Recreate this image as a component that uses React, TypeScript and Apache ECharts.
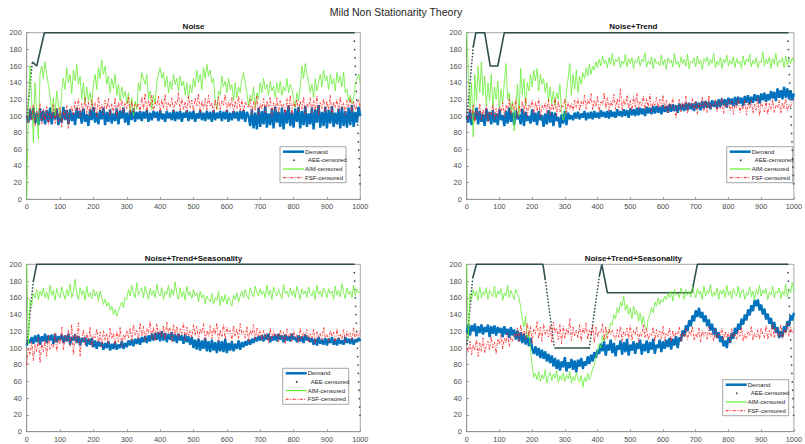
import React, { useEffect, useRef } from "react";
import * as echarts from "echarts";

// ---------- data (x step = 5, x from 0 to 1000) ----------
const STEP = 5;

// Top-left: Noise
const tlDemand = [100,92,108,95,110,91,104,89,109,94,106,90,107,
93,110,90,105,96,109,89,103,92,111,95,107,90,108,94,104,89,110,97,106,91,109,93,102,88,108,95,111,92,104,90,107,96,110,89,105,93,108,91,103,94,109,90,106,97,110,92,104,89,107,95,109,93,105,
96,106,94,105,97,107,93,104,95,106,98,105,94,107,96,103,93,106,97,104,95,107,94,105,96,106,93,104,98,107,94,105,96,106,93,103,97,107,95,104,94,106,96,105,93,107,95,104,97,106,94,105,96,107,93,104,95,106,97,105,94,106,96,107,93,105,
100,88,108,85,104,84,110,87,106,90,112,86,103,89,109,85,111,92,105,87,110,84,107,91,113,88,104,86,109,93,111,85,106,89,112,87,103,90,110,84,108,92,113,86,105,88,111,85,107,91,112,87,104,90,109,85,111,88,106,86,110,89,113,87,105,92,111,100];
const tlFsf = [100,92,110,95,113,88,106,99,115,90,108,94,112,89,104,97,114,91,109,93,111,87,107,96,113,85,105,
112,101,118,104,121,99,115,107,122,103,117,100,120,106,116,98,123,105,114,102,119,108,121,100,115,104,122,99,117,106,120,103,116,109,123,101,118,105,114,110,
115,105,123,108,127,104,119,110,125,106,117,112,124,103,120,109,126,107,116,111,122,105,118,113,128,106,121,108,117,104,124,110,119,105,122,112,127,103,118,109,121,106,125,111,116,104,120,108,123,107,119,113,126,105,117,110,122,104,118,109,124,106,120,105,117,112,
110,120,102,117,107,124,101,115,108,121,104,118,110,123,100,116,106,122,103,119,109,114,102,121,107,125,101,117,111,120,105,118,108,123,102,115,110,122,104,119,106,124,101,116,109,121,103,118,107,125,102,117,110,120,105,123,108,116,101,119,111,122,104,118,107,115,120,110];
const tlAim = [0,110,160,120,68,140,105,72,150,160,145,165,150,138,125,104,122,100,130,112,
98,128,145,132,158,140,150,127,155,142,162,138,148,120,140,115,135,118,128,112,
138,150,132,158,145,167,150,160,138,148,128,145,133,150,125,138,118,135,122,130,
115,128,105,122,100,118,108,140,130,152,145,138,150,120,130,108,125,115,140,150,
158,145,152,135,148,128,142,132,150,138,145,130,148,136,142,125,140,120,138,128,
145,135,155,140,150,132,158,145,162,148,155,140,145,118,108,130,125,148,135,142,
128,145,132,138,118,140,122,135,128,145,152,140,128,112,125,118,135,110,128,120,
140,128,145,132,138,125,142,130,136,122,140,128,142,125,135,130,145,128,138,132,
120,110,128,118,135,160,145,163,150,140,128,138,122,145,130,140,150,135,155,142,
148,132,150,138,145,130,152,140,148,135,153,128,132,118,125,115,122,138,145,150,140];
const tlAeeSolid = [[[17,165],[30,160],[53,200],[981,200]]];
const tlAeeStart = [[[1,100],[17,165]]];
const tlAeeEnd = [[981,200],[1000,10]];

// Top-right: Noise+Trend
const trDemand = [100,92,108,89,104,95,110,90,106,93,102,88,109,94,105,90,107,92,103,89,108,95,101,88,106,91,110,93,104,89,107,96,102,90,109,88,105,94,100,91,108,93,104,89,106,95,101,87,103,90,107,92,105,88,104,94,99,86,102,91,106,89,104,96,101,
95,104,97,105,96,103,98,106,95,104,97,105,96,106,98,104,97,107,99,105,98,106,97,107,99,105,98,108,100,106,99,108,100,107,98,109,101,108,100,110,
101,110,102,109,100,111,103,110,102,112,103,112,104,111,102,113,105,112,104,114,105,114,106,113,104,115,107,114,106,116,107,116,108,115,106,117,109,116,107,118,
109,118,110,117,108,119,111,118,109,120,111,121,113,120,110,122,114,121,112,123,113,123,115,122,112,124,116,125,114,123,116,126,118,125,115,127,119,128,117,126,
119,130,121,129,118,133,122,131,120,135,122,133,120,131,119,127];
const trFsf = [100,94,110,97,113,92,106,100,115,95,108,98,112,93,105,101,114,96,109,99,111,
104,116,99,113,107,121,101,115,108,120,98,112,105,118,103,122,100,114,109,119,102,117,106,121,99,113,108,116,104,120,101,115,107,122,100,118,105,113,110,121,103,117,108,115,106,119,
110,121,106,118,112,125,108,120,114,127,107,119,111,124,105,117,113,128,109,122,106,118,112,126,108,121,110,133,107,120,113,125,109,119,106,123,111,127,108,118,112,124,107,121,110,126,105,117,113,122,109,120,111,125,
108,119,104,116,110,122,106,98,112,120,105,117,109,124,103,115,111,121,107,118,102,116,110,123,106,119,104,125,108,114,112,120,105,117,109,122,103,116,111,119,
106,118,102,115,110,121,104,113,108,120,101,116,109,119,103,114,107,122,100,117,111,105,118,102,115,108,120,104,113,110,119,103,116,109,121,106,114,111,118,120];
const trAim = [200,150,110,140,75,150,118,160,128,165,125,148,112,140,118,150,110,135,120,142,
108,132,115,140,163,120,128,105,118,82,110,138,100,157,125,145,112,140,130,150,
135,155,142,157,130,150,138,145,128,140,118,135,115,130,112,128,120,138,105,95,
100,130,145,163,125,150,132,155,128,148,138,152,145,158,148,162,150,160,155,165,
158,168,160,172,163,167,158,170,162,175,160,168,165,171,158,166,162,174,159,169,
163,170,157,167,164,172,160,168,165,176,159,166,162,171,157,169,163,165,160,173,
161,168,156,170,164,167,159,175,162,166,158,171,163,168,160,174,157,166,164,170,
159,172,162,167,156,169,165,171,160,168,163,175,158,166,161,170,157,168,164,173,
160,167,162,171,158,169,163,166,157,172,161,168,165,174,159,167,162,170,158,166,
164,177,160,168,163,171,157,169,162,175,159,167,164,170,158,172,161,168,163,170,165];
const trAeeSolid = [[[20,183],[28,200],[55,200],[72,160],[95,160],[115,200],[981,200]]];
const trAeeStart = [[[1,100],[20,183]]];
const trAeeEnd = [[981,200],[1000,10]];

// Bottom-left: Noise+Trend+Seasonality
const blDemand = [103,110,106,113,
105,115,107,116,104,114,108,117,106,115,109,116,105,117,107,114,110,116,106,115,108,117,104,113,109,116,106,114,103,112,107,113,102,111,104,112,
101,109,99,108,102,107,98,106,100,108,97,105,99,107,98,104,100,108,99,106,
101,109,103,110,102,111,105,112,104,113,107,114,106,115,108,117,109,118,110,119,
108,120,109,118,107,117,110,119,108,116,106,117,109,115,105,116,107,114,104,113,
100,110,98,111,97,109,99,112,96,108,95,110,97,107,94,109,96,108,95,111,94,106,97,108,96,105,99,109,98,107,
101,108,103,110,104,111,106,113,108,114,109,
115,108,116,110,117,107,114,109,116,108,117,110,115,107,116,109,114,108,117,110,113,107,115,108,114,106,116,109,113,107,
112,104,111,103,113,105,110,104,112,103,111,106,113,104,110,103,112,105,109,104,113,106,111,105,112,104,110,107,112,108];
const blFsf = [80,100,92,108,85,104,96,112,82,106,95,110,90,115,98,105,
100,118,96,112,104,125,98,115,108,122,102,128,92,118,106,130,90,
110,122,104,118,108,125,101,116,112,123,106,119,100,121,109,117,104,124,111,118,103,120,107,125,102,116,110,121,
112,124,108,128,115,121,110,130,114,126,109,123,117,132,111,125,108,129,116,122,113,127,110,131,118,124,107,128,115,126,111,123,116,130,109,125,114,121,112,128,
115,126,110,123,117,129,109,121,114,127,111,124,116,130,108,122,113,128,110,125,117,121,109,127,114,123,111,129,116,120,112,126,108,122,115,128,110,124,113,121,
109,121,112,118,106,124,110,120,114,117,107,122,111,119,105,123,113,118,108,121,112,116,106,124,110,119,114,122,107,117,111,123,105,120,113,118,109,125,112,116,108,121,114,119,106,123,111,117,110,122,107,120,113,118,109,124,111,119,114,121];
const blAim = [200,105,158,150,165,160,170,158,168,162,172,160,167,158,175,163,169,157,171,164,
160,173,165,158,170,162,176,160,168,182,165,158,172,163,169,157,174,161,166,159,
170,162,167,156,168,160,152,158,150,155,145,150,140,146,138,144,150,155,148,160,
158,170,162,175,165,160,178,163,168,172,160,174,166,158,171,163,169,160,176,165,
162,172,158,168,164,175,160,170,163,179,165,158,172,161,168,157,174,163,167,159,
170,162,166,155,168,160,164,153,162,158,155,165,152,160,157,168,151,162,155,164,
152,161,156,150,163,158,166,155,162,168,160,170,163,158,172,165,161,174,166,162,
171,164,168,160,175,163,169,158,173,166,162,170,164,159,176,165,168,161,172,163,
169,160,174,166,158,171,164,168,160,173,165,162,170,158,175,164,168,161,172,166,
160,171,165,168,158,174,163,169,161,177,166,159,172,164,168,160,175,163,170,166,168];
const blAeeSolid = [[[20,180],[30,200],[981,200]]];
const blAeeStart = [[[1,105],[20,180]]];
const blAeeEnd = [[981,200],[1000,10]];

// Bottom-right: Noise+Trend+Seasonality
const brDemand = [118,128,115,127,120,129,114,126,118,128,116,125,119,128,113,126,117,127,115,125,118,124,113,126,116,123,112,125,115,122,
110,121,108,119,106,117,104,115,102,112,100,
93,102,91,100,88,98,87,96,84,93,82,91,
78,88,75,86,73,84,77,89,72,83,76,87,74,85,71,86,78,88,75,84,79,90,
81,92,84,95,88,98,
93,105,96,108,91,104,97,110,94,106,90,103,98,109,92,107,95,111,91,104,97,108,93,106,99,110,92,105,96,109,94,107,98,111,93,104,100,110,95,108,
99,110,101,112,98,111,103,114,100,113,
108,121,114,127,120,133,126,139,132,145,137,
148,136,143,131,139,126,134,121,129,116,124,112,119,107,114,102,109,
100,113,106,118,111,124,117,129,122,135,128,140,133,146,139,151,144,157,150,
158,145,152,140,147,134,141,129,136,123,131,118,125,112,120,
113,126,119,132,126,139,133,142];
const brFsf = [100,95,108,92,104,98,110,90,106,96,112,94,103,108,97,114,100,107,93,111,104,116,99,112,106,118,102,113,108,117,
112,124,108,128,115,121,110,130,114,126,106,123,117,132,111,125,108,129,116,122,113,127,107,131,118,124,110,128,105,126,111,123,116,135,109,125,114,121,112,128,108,124,117,130,110,122,115,127,106,125,113,120,118,129,109,126,111,123,116,121,114,
110,122,113,126,108,120,115,124,111,127,109,121,116,125,107,119,114,128,112,123,110,118,115,125,108,122,113,120,111,126,109,117,114,124,107,121,112,119,116,125,108,118,113,123,110,120,115,126,109,117,112,124,107,121,114,119,110,125,113,118,108,122,111,117,115,124,109,120,112,119,107,123,113,118,110,121,114,125,108,117,111,120,115,126,109,118,113,122,110,124,116,112,127,110,121,114,129,112,124,117,113,128,111,122,116,130,114,125,118,122];
const brAim = [200,110,165,158,170,162,168,157,173,160,167,163,172,158,169,165,161,174,160,168,
164,171,157,166,162,175,160,169,163,158,170,165,160,148,135,125,138,112,120,98,
80,65,70,62,72,60,68,63,74,58,66,71,61,69,64,73,59,67,62,70,
60,68,63,72,58,66,61,70,64,59,67,53,65,60,70,62,68,75,80,90,
96,105,100,115,108,112,120,118,130,128,140,135,148,142,155,150,162,145,152,140,
148,135,150,140,145,132,142,128,138,125,122,135,140,148,142,155,150,160,152,158,
155,162,158,165,160,168,156,170,163,165,160,172,165,158,170,163,168,161,173,166,
160,171,164,168,158,174,162,169,165,176,161,167,163,172,158,169,164,170,160,175,
163,168,159,171,165,162,174,160,167,170,158,166,163,173,161,168,157,170,164,175,
162,169,165,171,158,167,163,174,160,168,165,172,159,168,163,176,161,170,166,178,168];
const brAeeSolid = [
  [[18,183],[30,200],[233,200],[240,182]],
  [[268,100],[375,100]],
  [[405,185],[413,200],[430,166],[688,166],[705,200],[981,200]],
];
const brAeeStart = [[[1,105],[18,183]], [[240,182],[268,100]], [[375,100],[405,185]]];
const brAeeEnd = [[981,200],[1000,10]];

const titles = ["Noise", "Noise+Trend", "Noise+Trend+Seasonality", "Noise+Trend+Seasonality"];
const legendNames = ["Demand", "AEE-censored", "AIM-censored", "FSF-censored"];

// ---------- layout / style ----------
const FONT = "'Liberation Sans', Arial, Helvetica, sans-serif";
const C_DEMAND = "#0072BD";
const C_AEE = "#2F4F4F";
const C_AIM = "#66EE33";
const C_FSF = "#FF1A1A";

const grids = [
  { left: 26.7, top: 32.7, width: 333.6, height: 166.6 },
  { left: 466.7, top: 32.7, width: 333.3, height: 166.6 },
  { left: 26.7, top: 264.3, width: 333.6, height: 167.4 },
  { left: 466.7, top: 264.3, width: 333.3, height: 167.4 },
];
const legendPos = [
  [280, 146.7],
  [726.7, 146.7],
  [282.7, 368.3],
  [722.7, 379.7],
];

const plots = [
  { demand: tlDemand, fsf: tlFsf, aim: tlAim, solid: tlAeeSolid, start: tlAeeStart, end: tlAeeEnd },
  { demand: trDemand, fsf: trFsf, aim: trAim, solid: trAeeSolid, start: trAeeStart, end: trAeeEnd },
  { demand: blDemand, fsf: blFsf, aim: blAim, solid: blAeeSolid, start: blAeeStart, end: blAeeEnd },
  { demand: brDemand, fsf: brFsf, aim: brAim, solid: brAeeSolid, start: brAeeStart, end: brAeeEnd },
];

const toXY = (arr: number[]) => arr.map((v, i) => [i * STEP, v]);

function buildOption() {
  const series: any[] = [];
  const xAxis: any[] = [];
  const yAxis: any[] = [];
  const grid: any[] = [];
  const graphic: any[] = [];

  plots.forEach((p, g) => {
    grid.push({ ...grids[g], show: true, borderColor: "#8f8f8f", borderWidth: 0.8, backgroundColor: "#fff" });
    xAxis.push({
      type: "value", gridIndex: g, min: 0, max: 1000, interval: 100,
      axisLine: { show: true, lineStyle: { color: "#8f8f8f", width: 0.8 } },
      axisTick: { show: true, inside: true, length: 2.5, lineStyle: { color: "#8f8f8f", width: 0.8 } },
      axisLabel: { fontSize: 7.3, color: "#4a4a4a", margin: 4, fontFamily: FONT, formatter: (v: number) => String(v) },
      splitLine: { show: false },
    });
    yAxis.push({
      type: "value", gridIndex: g, min: 0, max: 200, interval: 20,
      axisLine: { show: true, lineStyle: { color: "#8f8f8f", width: 0.8 } },
      axisTick: { show: true, inside: true, length: 2.5, lineStyle: { color: "#8f8f8f", width: 0.8 } },
      axisLabel: { fontSize: 7.3, color: "#4a4a4a", margin: 5, fontFamily: FONT, formatter: (v: number) => String(v) },
      splitLine: { show: false },
    });
    const base = { type: "line", xAxisIndex: g, yAxisIndex: g, symbol: "none", silent: true };
    series.push({ ...base, name: "Demand", data: toXY(p.demand), lineStyle: { color: C_DEMAND, width: 2.4 }, z: 2 });
    p.solid.forEach((seg) => {
      series.push({ ...base, name: "AEE-censored", data: seg, clip: false, lineStyle: { color: C_AEE, width: 1.6 }, z: 3 });
    });
    p.start.forEach((seg) => {
      series.push({ ...base, name: "AEE-censored", data: seg, clip: false, lineStyle: { color: C_AEE, width: 1.7, type: [0.1, 3.2], cap: "round" }, z: 3 });
    });
    series.push({ ...base, name: "AEE-censored", data: p.end, clip: false, lineStyle: { color: C_AEE, width: 1.7, type: [0.1, 8.3], cap: "round" }, z: 3 });
    series.push({ ...base, name: "AIM-censored", data: toXY(p.aim), lineStyle: { color: C_AIM, width: 0.8 }, z: 4 });
    series.push({ ...base, name: "FSF-censored", data: toXY(p.fsf), lineStyle: { color: C_FSF, width: 0.8, type: [3, 1.5, 1, 1.5] }, z: 5 });

    // subplot title
    const gr = grids[g];
    graphic.push({
      type: "text", x: gr.left + gr.width / 2, y: gr.top - 6, z: 100,
      style: { text: titles[g], font: `bold 8px ${FONT}`, fill: "#111", align: "center", verticalAlign: "middle" },
    });

    // legend
    const [lx, ly] = legendPos[g];
    const rows = [5, 13.6, 22.3, 31];
    graphic.push({
      type: "group", x: lx, y: ly, z: 100,
      children: [
        { type: "rect", shape: { x: 0, y: 0, width: 66, height: 36 }, style: { fill: "#fff", stroke: "#8f8f8f", lineWidth: 0.8 } },
        { type: "line", shape: { x1: 3, y1: rows[0], x2: 24, y2: rows[0] }, style: { stroke: C_DEMAND, lineWidth: 2.5 } },
        { type: "circle", shape: { cx: 14, cy: rows[1], r: 0.9 }, style: { fill: C_AEE } },
        { type: "line", shape: { x1: 3, y1: rows[2], x2: 24, y2: rows[2] }, style: { stroke: C_AIM, lineWidth: 1.2 } },
        { type: "line", shape: { x1: 3, y1: rows[3], x2: 24, y2: rows[3] }, style: { stroke: C_FSF, lineWidth: 1, lineDash: [3, 1.5, 1, 1.5] } },
        ...legendNames.map((n, i) => ({
          type: "text", x: i === 1 ? 28 : 25, y: rows[i],
          style: { text: n, font: `6px ${FONT}`, fill: "#262626", verticalAlign: "middle", align: "left" },
        })),
      ],
    });
  });

  graphic.push({
    type: "text", x: 396, y: 12, z: 100,
    style: { text: "Mild Non Stationarity Theory", font: `10.5px ${FONT}`, fill: "#262626", align: "center", verticalAlign: "middle" },
  });

  return { animation: false, backgroundColor: "#fff", grid, xAxis, yAxis, series, graphic };
}

export default function App() {
  const ref = useRef<HTMLDivElement>(null);
  useEffect(() => {
    if (!ref.current) return;
    const chart = echarts.init(ref.current, undefined, { renderer: "svg" });
    chart.setOption(buildOption());
    return () => chart.dispose();
  }, []);
  return <div ref={ref} style={{ position: "fixed", left: 0, top: 0, width: 805, height: 444, background: "#fff" }} />;
}
